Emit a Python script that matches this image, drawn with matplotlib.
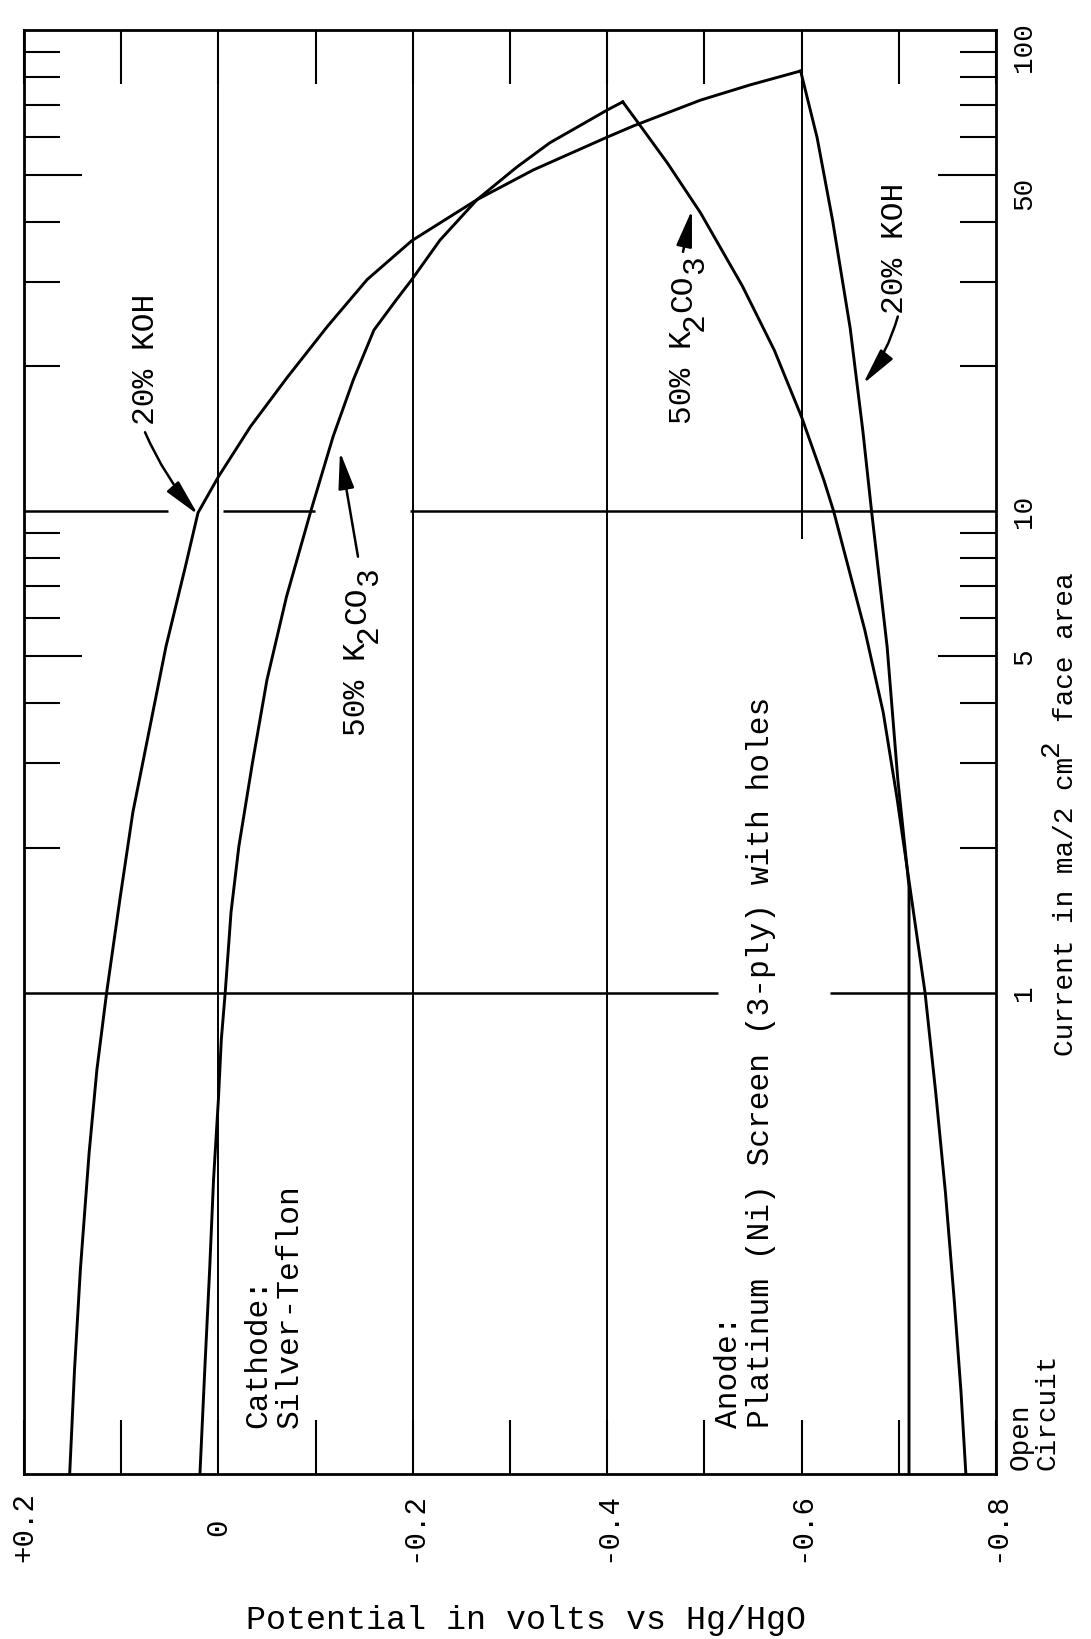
import matplotlib
matplotlib.use("Agg")
import matplotlib.pyplot as plt
import matplotlib.transforms as mtransforms
from matplotlib.ticker import FixedLocator, NullFormatter

plt.rcParams['font.family'] = ['Liberation Mono', 'DejaVu Sans Mono']

# Current value used to plot the open-circuit readings (bottom of the chart)
OPEN_CIRCUIT = 0.1

# Cathode (Silver-Teflon), 20% KOH: potential (V vs Hg/HgO), current (ma / 2 cm^2)
koh_cath_v = [0.153, 0.148, 0.142, 0.133, 0.125, 0.115, 0.101, 0.088, 0.071,
              0.054, 0.034, 0.021, 0.000, -0.033, -0.071, -0.112, -0.153,
              -0.199, -0.266, -0.324, -0.400, -0.427, -0.496, -0.547, -0.599]
koh_cath_i = [OPEN_CIRCUIT, 0.165, 0.266, 0.465, 0.692, 1.0, 1.58, 2.37, 3.52,
              5.23, 7.67, 9.93, 11.8, 15.0, 19.0, 24.2, 30.3,
              36.5, 44.4, 51.2, 59.9, 63.2, 71.5, 76.9, 82.2]

# Cathode (Silver-Teflon), 50% K2CO3
k2co3_cath_v = [0.019, 0.014, 0.009, 0.005, 0.000, -0.003, -0.007, -0.013,
                -0.021, -0.035, -0.050, -0.070, -0.095, -0.118, -0.139, -0.160,
                -0.183, -0.199, -0.228, -0.266, -0.307, -0.341, -0.375, -0.400,
                -0.416]
k2co3_cath_i = [OPEN_CIRCUIT, 0.165, 0.266, 0.409, 0.600, 0.799, 1.0, 1.47,
                2.01, 3.0, 4.47, 6.64, 10.0, 14.3, 18.8, 23.8,
                27.5, 30.3, 36.6, 44.4, 51.9, 58.3, 63.8, 68.2,
                70.9]

# Anode (Platinum (Ni) screen), 50% K2CO3
k2co3_an_v = [-0.416, -0.432, -0.462, -0.496, -0.539, -0.572, -0.600, -0.623,
              -0.633, -0.665, -0.684, -0.698, -0.711, -0.727, -0.738, -0.748,
              -0.757, -0.764, -0.769]
k2co3_an_i = [70.9, 64.1, 52.9, 41.7, 29.4, 21.6, 15.7, 11.6,
              10.0, 5.67, 3.82, 2.55, 1.68, 1.0, 0.62, 0.384,
              0.230, 0.148, OPEN_CIRCUIT]

# Anode (Platinum (Ni) screen), 20% KOH
koh_an_v = [-0.599, -0.616, -0.632, -0.650, -0.663, -0.672, -0.688, -0.699,
            -0.708, -0.7105, -0.7105]
koh_an_i = [82.2, 59.7, 40.1, 24.0, 14.7, 10.0, 5.23, 2.77,
            1.86, 1.66, OPEN_CIRCUIT]

# Axis scales
pot_ticks = [0.2, 0.0, -0.2, -0.4, -0.6, -0.8]
pot_tick_labels = ['+0.2', '0', '-0.2', '-0.4', '-0.6', '-0.8']
pot_minor = [0.1, -0.1, -0.3, -0.5, -0.7]
cur_ticks = [100, 50, 10, 5, 1]
cur_tick_labels = ['100', '50', '10', '5', '1']
cur_major_marks = [5, 50]
cur_minor_marks = [2, 3, 4, 6, 7, 8, 9, 20, 30, 40, 60, 70, 80, 90]

W, H = 1091, 1639
DPI = 100
fig = plt.figure(figsize=(W / DPI, H / DPI), dpi=DPI)
L, R, T, B = 24, 996, 30, 1474
ax = fig.add_axes([L / W, 1 - B / H, (R - L) / W, (B - T) / H])
ax.set_xlim(0.2, -0.8)
ax.set_yscale('log')
ax.set_ylim(OPEN_CIRCUIT, 100)

for sp in ax.spines.values():
    sp.set_linewidth(2.0)

# tick marks pointing inward on all four sides
ax.xaxis.set_major_locator(FixedLocator(pot_ticks))
ax.xaxis.set_minor_locator(FixedLocator(pot_minor))
ax.yaxis.set_major_locator(FixedLocator(cur_major_marks))
ax.yaxis.set_minor_locator(FixedLocator(cur_minor_marks))
for axis in (ax.xaxis, ax.yaxis):
    axis.set_major_formatter(NullFormatter())
    axis.set_minor_formatter(NullFormatter())
ax.tick_params(axis='x', which='both', direction='in', length=39, width=1.5,
               top=True, bottom=True)
ax.tick_params(axis='y', which='major', direction='in', length=42, width=1.5,
               left=True, right=True)
ax.tick_params(axis='y', which='minor', direction='in', length=26, width=1.5,
               left=True, right=True)

# grid lines
lw_grid = 1.4
for v in [0.0, -0.2, -0.4]:
    ax.axvline(v, color='black', lw=lw_grid)
ax.vlines(-0.6, 8.77, 100, color='black', lw=lw_grid)
for x0, x1 in [(0.2, 0.052), (-0.005, -0.099), (-0.197, -0.8)]:
    ax.hlines(10, x0, x1, color='black', lw=1.8)
for x0, x1 in [(0.2, -0.514), (-0.629, -0.8)]:
    ax.hlines(1, x0, x1, color='black', lw=1.8)

# polarization curves
lw_curve = 2.1
ax.plot(koh_cath_v, koh_cath_i, color='black', lw=lw_curve, solid_joinstyle='round')
ax.plot(k2co3_cath_v, k2co3_cath_i, color='black', lw=lw_curve, solid_joinstyle='round')
ax.plot(k2co3_an_v, k2co3_an_i, color='black', lw=lw_curve, solid_joinstyle='miter')
ax.plot(koh_an_v, koh_an_i, color='black', lw=lw_curve, solid_joinstyle='miter')


def mono_label(x, y, pieces, fs, transform):
    """Vertical monospaced label centred on (x, y); pieces are
    (text, char_index, shift_pt) with positive shift lowering the piece."""
    n = max(i + len(s) for s, i, _ in pieces)
    adv = 0.6 * fs  # advance of one monospaced character, in points
    for s, i, shift in pieces:
        off = mtransforms.ScaledTranslation(
            shift / 72, (i * adv - n * adv / 2) / 72, fig.dpi_scale_trans)
        ax.text(x, y, s, rotation=90, rotation_mode='anchor', ha='left',
                va='center', fontsize=fs, transform=transform + off,
                clip_on=False)


fs_in = 22.5
SUB = 8.6
k2co3_pieces = [('50% K', 0, 0), ('2', 5, SUB), ('CO', 6, 0), ('3', 8, SUB)]

# curve labels with arrows
arrow_kw = dict(arrowstyle='-|>,head_length=0.75,head_width=0.16', color='black',
                lw=1.8, mutation_scale=30, shrinkA=0, shrinkB=0)
ax.text(0.0745, 20.7, '20% KOH', rotation=90, ha='center', va='center', fontsize=fs_in)
ax.annotate('', xy=(0.021, 9.84), xytext=(0.0755, 14.6),
            arrowprops=dict(connectionstyle='arc3,rad=0.08', **arrow_kw))

mono_label(-0.1426, 5.1, k2co3_pieces, fs_in, ax.transData)
ax.annotate('', xy=(-0.1251, 13.3), xytext=(-0.1436, 8.05),
            arrowprops=dict(connectionstyle='arc3,rad=0.0', **arrow_kw))

mono_label(-0.478, 22.7, k2co3_pieces, fs_in, ax.transData)
ax.annotate('', xy=(-0.4872, 42.3), xytext=(-0.478, 34.6),
            arrowprops=dict(connectionstyle='arc3,rad=0.0', **arrow_kw))

ax.text(-0.696, 35.2, '20% KOH', rotation=90, ha='center', va='center', fontsize=fs_in)
ax.annotate('', xy=(-0.6632, 18.4), xytext=(-0.699, 25.4),
            arrowprops=dict(connectionstyle='arc3,rad=-0.1', **arrow_kw))

# electrode descriptions
data_x_axes_y = mtransforms.blended_transform_factory(ax.transData, ax.transAxes)
ax.text(-0.0572, 0.0319, 'Cathode:\nSilver-Teflon', rotation=90, ha='center',
        va='bottom', multialignment='left', fontsize=fs_in, linespacing=1.05,
        transform=data_x_axes_y)
ax.text(-0.5418, 0.0319, 'Anode:\nPlatinum (Ni) Screen (3-ply) with holes',
        rotation=90, ha='center', va='bottom', multialignment='left',
        fontsize=fs_in, linespacing=1.05, transform=data_x_axes_y)

# potential tick labels along the bottom
data_x_fig_y = mtransforms.blended_transform_factory(ax.transData, fig.transFigure)
for v, lab in zip(pot_ticks, pot_tick_labels):
    ax.text(v, 1 - 1527 / H, lab, rotation=90, ha='center', va='center',
            fontsize=21, transform=data_x_fig_y, clip_on=False)

# current tick labels along the right side
fig_x_data_y = mtransforms.blended_transform_factory(fig.transFigure, ax.transData)
label_nudge_px = {100: -17, 50: -18}
for c, lab in zip(cur_ticks, cur_tick_labels):
    tr = fig_x_data_y + mtransforms.ScaledTranslation(
        0, label_nudge_px.get(c, 0) / DPI, fig.dpi_scale_trans)
    ax.text(1024 / W, c, lab, rotation=90, ha='center', va='center',
            fontsize=20, transform=tr, clip_on=False)

fig.text(1034 / W, 1 - 1470 / H, 'Open\nCircuit', rotation=90, ha='center',
         va='bottom', multialignment='left', fontsize=20, linespacing=1.05)

# axis titles
mono_label(1066 / W, 1 - 814 / H,
           [('Current in ma/2 cm', 0, 0), ('2', 18, -10.5), ('face area', 20, 0)],
           20, fig.transFigure)
fig.text(526 / W, 1 - 1620 / H, 'Potential in volts vs Hg/HgO', ha='center',
         va='center', fontsize=24)

fig.savefig('out.png', dpi=DPI, facecolor='white')
